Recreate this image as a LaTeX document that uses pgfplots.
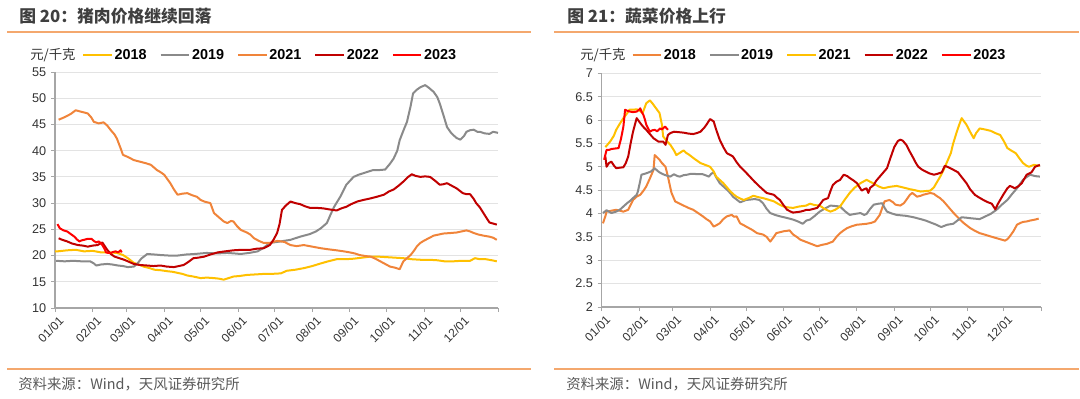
\documentclass[border=0pt]{standalone}
\usepackage{fontspec}
\setmainfont{Liberation Sans}
\newfontfamily\cjk{Noto Sans CJK SC}
\usepackage{pgfplots}
\pgfplotsset{compat=1.18}
\definecolor{cy}{HTML}{FFC000}
\definecolor{cg}{HTML}{8A8A8A}
\definecolor{co}{HTML}{F0843A}
\definecolor{cdr}{HTML}{C00000}
\definecolor{cr}{HTML}{FF0000}
\definecolor{rulecol}{HTML}{F4A86E}
\definecolor{titlegray}{HTML}{3F3F3F}
\definecolor{footgray}{HTML}{595959}
\definecolor{axisgray}{HTML}{A6A6A6}
\definecolor{gridgray}{HTML}{E3E3E3}
\definecolor{tickgray}{HTML}{333333}
\pgfplotsset{
  mystyle/.style={
    scale only axis,
    xmin=0, xmax=365,
    axis x line*=bottom, axis y line*=left,
    axis line style={-, draw=axisgray, line width=0.8pt},
    tick style={draw=axisgray, line width=0.7pt},
    tick align=outside,
    major tick length=3pt,
    ymajorgrids,
    grid style={draw=gridgray, line width=0.75pt},
    xtick={0,31,59,90,120,151,181,212,243,273,304,334,365},
    xticklabels={01/01,02/01,03/01,04/01,05/01,06/01,07/01,08/01,09/01,10/01,11/01,12/01,},
    x tick label style={rotate=45, anchor=north east, font=\fontsize{9}{10}\selectfont, text=tickgray, inner sep=1pt, yshift=-2.5pt, xshift=1pt},
    y tick label style={font=\fontsize{9.5}{11}\selectfont, text=tickgray},
    /pgf/number format/assume math mode=true,
    legend columns=5,
    legend cell align=left,
    legend style={draw=none, fill=none, inner sep=0pt, anchor=west,
      font=\bfseries\fontsize{10.8}{12}\selectfont,
      nodes={inner sep=1.2pt},
      /tikz/every even column/.append style={column sep=8.5pt}},
    legend image code/.code={\draw[#1, line width=1.6pt] (0pt,0pt) -- (21.5pt,0pt);},
    every axis plot/.append style={line width=1.5pt, line join=round},
  }
}
\begin{document}
\begin{tikzpicture}
\useasboundingbox (0,0) rectangle (810pt,-299.25pt);
\begin{scope}[x=0.75pt,y=-0.75pt]
\node[anchor=west, font=\cjk\bfseries\fontsize{12.6}{14}\selectfont, text=titlegray, inner sep=0pt] at (19,16) {图 20：猪肉价格继续回落};
\node[anchor=west, font=\cjk\bfseries\fontsize{12.6}{14}\selectfont, text=titlegray, inner sep=0pt] at (567,16) {图 21：蔬菜价格上行};
\draw[rulecol, line width=1pt] (7,32) -- (531,32);
\draw[rulecol, line width=1pt] (554,32) -- (1079,32);
\draw[rulecol, line width=1pt] (7,369) -- (531,369);
\draw[rulecol, line width=1pt] (554,369) -- (1079,369);
\node[anchor=west, font=\cjk\fontsize{10.8}{12}\selectfont, text=footgray, inner sep=0pt] at (18,384) {资料来源：Wind，天风证券研究所};
\node[anchor=west, font=\cjk\fontsize{10.8}{12}\selectfont, text=footgray, inner sep=0pt] at (566,384) {资料来源：Wind，天风证券研究所};
\node[anchor=west, font=\cjk\fontsize{10}{12}\selectfont, text=tickgray, inner sep=0pt] at (30,55) {元/千克};
\node[anchor=west, font=\cjk\fontsize{10}{12}\selectfont, text=tickgray, inner sep=0pt] at (580,55) {元/千克};
\end{scope}

% ---------------- Left: pork ----------------
\begin{axis}[mystyle, at={(41.25pt,-231pt)}, anchor=south west,
  width=332.25pt, height=177pt,
  ymin=10, ymax=55, ytick={10,15,...,55},
  legend style={at={(0.061,1.072)}}]
\addplot[cy] coordinates {(0,20.8)(2,20.8)(10,21.0)(17,21.1)(24,20.8)(31,20.9)(38,20.6)(45,20.6)(51,20.5)(56,20.1)(60,19.5)(65,18.6)(69,18.3)(73,17.9)(78,17.6)(82,17.3)(87,17.2)(93,17.0)(97,16.9)(101,16.7)(105,16.5)(109,16.2)(114,16.0)(120,15.7)(125,15.8)(131,15.7)(135,15.6)(139,15.4)(143,15.7)(147,16.0)(152,16.1)(158,16.3)(165,16.4)(172,16.5)(178,16.5)(186,16.6)(191,17.1)(198,17.3)(205,17.6)(212,18.0)(219,18.5)(225,18.9)(232,19.3)(239,19.3)(246,19.4)(253,19.6)(260,19.8)(266,19.8)(273,19.7)(280,19.6)(287,19.5)(294,19.3)(301,19.2)(308,19.2)(315,19.1)(321,18.9)(328,18.9)(335,19.0)(342,19.0)(346,19.5)(350,19.3)(355,19.3)(360,19.1)(364,18.9)};
\addlegendentry{2018}
\addplot[cg] coordinates {(1,19.0)(8,18.9)(15,19.0)(22,18.9)(29,18.9)(32,18.5)(34,18.1)(38,18.3)(43,18.4)(47,18.3)(52,18.1)(56,18.0)(60,17.8)(65,17.9)(68,18.5)(71,19.4)(76,20.3)(82,20.2)(87,20.1)(94,20.0)(101,20.0)(108,20.2)(115,20.3)(120,20.4)(125,20.5)(133,20.4)(142,20.5)(148,20.4)(153,20.3)(160,20.5)(167,20.8)(172,21.5)(177,22.4)(186,22.7)(194,23.0)(202,23.6)(210,24.1)(215,24.6)(219,25.2)(224,26.2)(227,27.8)(230,29.3)(235,31.2)(240,33.5)(246,35.0)(250,35.4)(254,35.7)(258,36.0)(262,36.3)(267,36.3)(272,36.4)(276,37.5)(279,38.5)(282,40.0)(284,42.0)(287,43.8)(290,45.5)(293,48.5)(295,50.9)(298,51.6)(301,52.1)(305,52.5)(308,52.0)(312,51.2)(315,50.2)(317,49.0)(320,46.8)(323,44.5)(326,43.5)(328,43.0)(331,42.4)(334,42.1)(337,42.8)(339,43.6)(342,43.9)(345,44.0)(348,43.6)(350,43.6)(354,43.3)(358,43.2)(361,43.6)(365,43.4)};
\addlegendentry{2019}
\addplot[co] coordinates {(3,45.9)(8,46.4)(13,47.0)(17,47.7)(22,47.4)(27,47.1)(30,46.3)(32,45.5)(36,45.2)(40,45.4)(43,44.8)(46,43.9)(49,43.1)(51,42.3)(54,40.5)(56,39.2)(60,38.8)(65,38.2)(70,37.9)(75,37.6)(79,37.3)(84,36.3)(87,35.9)(90,35.4)(95,33.8)(98,32.6)(101,31.6)(105,31.8)(109,31.9)(113,31.5)(117,31.2)(120,30.6)(123,30.3)(128,30.0)(131,28.1)(136,27.1)(139,26.5)(142,26.2)(145,26.6)(147,26.5)(150,25.6)(153,24.9)(158,24.4)(161,24.0)(164,23.3)(168,22.8)(172,22.4)(177,22.4)(183,22.8)(189,22.6)(194,22.0)(199,21.8)(205,22.0)(212,21.7)(219,21.4)(225,21.2)(232,21.0)(238,20.8)(243,20.6)(247,20.4)(251,20.1)(256,19.9)(260,19.8)(264,19.4)(268,18.9)(272,18.4)(276,17.9)(280,17.7)(284,17.4)(287,18.9)(290,19.5)(293,20.1)(296,21.0)(298,21.7)(301,22.4)(303,22.7)(307,23.2)(312,23.8)(316,24.0)(320,24.2)(326,24.3)(331,24.4)(335,24.6)(339,24.8)(342,24.6)(345,24.3)(349,24.0)(353,23.8)(358,23.6)(361,23.4)(364,23.0)};
\addlegendentry{2021}
\addplot[cdr] coordinates {(3,23.3)(6,23.0)(10,22.7)(14,22.3)(19,22.0)(23,21.9)(27,21.7)(31,21.9)(35,22.0)(39,22.5)(41,21.8)(43,21.1)(46,20.3)(49,19.8)(53,19.5)(57,19.2)(61,18.8)(65,18.4)(70,18.2)(76,18.1)(81,18.0)(87,18.1)(92,17.9)(98,17.8)(102,18.0)(106,18.2)(110,18.8)(114,19.5)(118,19.6)(123,19.8)(128,20.2)(134,20.6)(140,20.8)(147,21.0)(154,21.1)(161,21.1)(166,21.3)(172,21.4)(177,22.0)(180,23.0)(183,24.3)(185,26.0)(187,28.7)(190,29.5)(194,30.3)(198,30.0)(202,29.8)(206,29.4)(210,29.1)(215,29.1)(221,29.0)(226,28.8)(232,28.6)(236,29.0)(240,29.3)(244,29.8)(249,30.3)(254,30.6)(260,30.9)(265,31.2)(271,31.6)(275,32.2)(279,32.6)(283,33.3)(287,34.1)(291,35.0)(294,35.5)(297,35.2)(301,35.0)(305,35.1)(309,35.0)(313,34.3)(317,33.5)(320,33.6)(323,33.8)(327,33.3)(331,32.8)(336,31.9)(339,31.7)(342,31.7)(345,30.8)(347,30.0)(350,29.2)(353,28.1)(356,27.0)(358,26.3)(361,26.1)(364,25.9)};
\addlegendentry{2022}
\addplot[cr] coordinates {(2,26.0)(4,25.2)(7,24.8)(10,24.6)(13,24.1)(16,23.6)(18,23.1)(20,22.7)(22,22.9)(24,23.0)(27,23.2)(30,23.2)(32,22.8)(34,22.5)(36,22.7)(38,22.3)(39,22.0)(41,21.2)(42,20.6)(44,20.5)(46,20.5)(48,20.7)(50,20.8)(52,20.6)(54,21.0)(55,20.6)};
\addlegendentry{2023}
\end{axis}

% ---------------- Right: vegetables ----------------
\begin{axis}[mystyle, at={(451.3pt,-230.25pt)}, anchor=south west,
  width=329.5pt, height=175.3pt,
  ymin=2, ymax=7, ytick={2,2.5,...,7},
  legend style={at={(0.067,1.077)}}]
\addplot[co] coordinates {(1,3.79)(3,3.94)(4,4.04)(8,4.06)(12,4.08)(15,4.06)(18,4.04)(22,4.08)(26,4.29)(29,4.36)(32,4.40)(35,4.50)(37,4.58)(40,4.75)(43,4.93)(44,5.25)(46,5.20)(48,5.15)(50,5.08)(53,5.00)(55,4.79)(57,4.55)(58,4.44)(61,4.26)(64,4.22)(68,4.17)(72,4.12)(76,4.08)(80,4.01)(84,3.94)(87,3.88)(90,3.83)(93,3.72)(96,3.76)(98,3.79)(101,3.88)(104,3.94)(108,3.97)(110,3.93)(112,3.94)(115,3.79)(118,3.75)(120,3.72)(125,3.65)(129,3.58)(134,3.55)(137,3.50)(140,3.40)(143,3.50)(145,3.58)(148,3.60)(151,3.62)(154,3.63)(156,3.64)(159,3.55)(162,3.50)(165,3.44)(169,3.40)(172,3.37)(176,3.33)(179,3.30)(183,3.33)(187,3.35)(192,3.40)(195,3.50)(198,3.58)(201,3.64)(204,3.69)(208,3.73)(212,3.76)(216,3.77)(220,3.78)(224,3.80)(227,3.83)(229,3.90)(231,3.97)(233,4.12)(235,4.26)(239,4.29)(242,4.24)(244,4.19)(248,4.17)(251,4.22)(253,4.29)(256,4.40)(258,4.44)(260,4.40)(262,4.36)(265,4.38)(267,4.40)(270,4.42)(273,4.44)(276,4.42)(278,4.38)(281,4.33)(284,4.26)(287,4.17)(290,4.08)(292,4.02)(295,3.94)(298,3.86)(301,3.79)(304,3.73)(306,3.69)(310,3.63)(314,3.58)(318,3.55)(323,3.51)(327,3.48)(331,3.45)(335,3.42)(337,3.45)(339,3.51)(342,3.62)(345,3.76)(348,3.80)(350,3.82)(353,3.83)(356,3.85)(360,3.87)(363,3.89)};
\addlegendentry{2018}
\addplot[cg] coordinates {(1,4.01)(4,4.07)(8,4.01)(12,4.04)(15,4.08)(18,4.15)(21,4.22)(24,4.28)(26,4.33)(29,4.40)(30,4.47)(32,4.70)(33,4.83)(37,4.86)(41,4.90)(44,4.97)(46,4.92)(48,4.88)(51,4.84)(54,4.81)(57,4.79)(60,4.84)(63,4.80)(65,4.79)(68,4.82)(71,4.83)(74,4.85)(76,4.85)(80,4.84)(84,4.84)(87,4.81)(89,4.79)(91,4.85)(93,4.88)(95,4.78)(98,4.65)(101,4.58)(104,4.51)(107,4.43)(109,4.36)(112,4.30)(115,4.24)(118,4.27)(120,4.29)(124,4.30)(127,4.31)(131,4.29)(134,4.22)(137,4.10)(140,4.01)(144,3.97)(148,3.94)(153,3.91)(159,3.87)(163,3.83)(167,3.78)(170,3.85)(173,3.87)(177,3.95)(181,4.04)(185,4.10)(190,4.17)(194,4.16)(198,4.15)(202,4.05)(206,3.97)(210,3.99)(215,4.01)(218,3.97)(220,3.99)(223,4.10)(226,4.19)(230,4.21)(233,4.22)(235,4.12)(237,4.04)(241,4.00)(245,3.97)(249,3.96)(253,3.95)(259,3.92)(265,3.88)(269,3.85)(273,3.81)(278,3.76)(282,3.71)(285,3.74)(287,3.76)(292,3.78)(296,3.86)(299,3.92)(303,3.91)(306,3.90)(310,3.89)(314,3.88)(318,3.93)(323,3.99)(328,4.08)(332,4.18)(337,4.29)(341,4.42)(345,4.54)(348,4.65)(350,4.72)(353,4.78)(356,4.83)(360,4.80)(364,4.79)};
\addlegendentry{2019}
\addplot[cy] coordinates {(3,5.42)(7,5.54)(10,5.66)(12,5.79)(15,5.92)(18,6.04)(21,6.14)(23,6.22)(26,6.22)(29,6.23)(32,6.19)(34,6.15)(37,6.36)(40,6.42)(42,6.36)(44,6.29)(46,6.22)(48,6.15)(50,5.90)(51,5.65)(54,5.55)(57,5.47)(60,5.35)(62,5.25)(65,5.30)(68,5.35)(70,5.30)(73,5.25)(77,5.17)(82,5.08)(86,5.04)(90,5.00)(93,4.90)(95,4.79)(98,4.72)(101,4.65)(104,4.56)(107,4.47)(110,4.40)(112,4.36)(115,4.32)(118,4.29)(122,4.33)(126,4.38)(130,4.35)(134,4.33)(138,4.30)(143,4.26)(147,4.20)(151,4.15)(155,4.13)(159,4.12)(164,4.15)(170,4.17)(173,4.21)(177,4.18)(181,4.17)(185,4.10)(190,4.04)(194,4.08)(198,4.15)(202,4.30)(206,4.44)(210,4.55)(215,4.65)(220,4.72)(223,4.68)(226,4.64)(230,4.58)(234,4.54)(239,4.57)(245,4.59)(250,4.56)(256,4.52)(260,4.50)(265,4.47)(269,4.48)(273,4.49)(276,4.56)(278,4.65)(281,4.78)(284,4.93)(287,5.11)(290,5.29)(292,5.50)(295,5.75)(297,5.90)(299,6.04)(301,5.97)(303,5.90)(306,5.75)(309,5.61)(311,5.72)(314,5.82)(318,5.80)(323,5.77)(327,5.72)(331,5.68)(334,5.55)(337,5.40)(340,5.35)(344,5.29)(347,5.18)(350,5.08)(353,5.02)(355,5.00)(359,5.04)(364,5.02)};
\addlegendentry{2021}
\addplot[cdr] coordinates {(3,5.22)(4,5.00)(6,5.08)(8,5.11)(10,5.03)(12,4.97)(15,4.98)(18,4.99)(20,5.08)(22,5.22)(24,5.50)(26,5.75)(29,6.04)(31,5.97)(33,5.90)(35,5.84)(37,5.79)(40,5.70)(43,5.61)(47,5.54)(51,5.54)(53,5.47)(55,5.68)(57,5.72)(60,5.75)(64,5.74)(68,5.73)(72,5.71)(76,5.70)(79,5.72)(82,5.75)(85,5.83)(87,5.90)(90,6.02)(93,5.97)(95,5.80)(98,5.58)(101,5.42)(104,5.29)(107,5.25)(109,5.22)(112,5.10)(115,5.00)(119,4.90)(123,4.79)(127,4.68)(131,4.58)(134,4.51)(137,4.44)(140,4.42)(143,4.40)(146,4.33)(148,4.29)(151,4.18)(154,4.08)(157,4.04)(159,4.02)(162,4.03)(165,4.04)(168,4.06)(170,4.08)(173,4.08)(176,4.10)(179,4.12)(182,4.22)(184,4.29)(188,4.33)(190,4.48)(192,4.61)(195,4.68)(198,4.72)(201,4.83)(204,4.80)(206,4.76)(209,4.71)(212,4.65)(214,4.57)(216,4.49)(218,4.52)(220,4.54)(221.5,4.44)(223,4.55)(226,4.61)(228,4.70)(231,4.79)(234,4.88)(237,4.97)(240,5.20)(243,5.42)(246,5.55)(248,5.58)(250,5.56)(253,5.47)(256,5.32)(259,5.18)(261,5.08)(263,5.00)(266,4.94)(269,4.90)(272,4.86)(276,4.83)(279,4.85)(282.5,4.88)(285,5.02)(288,4.99)(291,4.95)(294,4.91)(296,4.88)(299,4.78)(303,4.65)(306,4.52)(310,4.40)(313,4.35)(317,4.29)(320,4.25)(324,4.21)(327,4.09)(329,4.20)(331,4.29)(334,4.42)(337,4.54)(339,4.59)(341,4.57)(343,4.54)(346,4.58)(349,4.65)(351,4.74)(353,4.83)(357,4.88)(360,5.00)(364,5.04)};
\addlegendentry{2022}
\addplot[cr] coordinates {(2,5.15)(4,5.36)(6,5.36)(8,5.38)(11,5.39)(14,5.40)(16,5.60)(18,5.86)(19.4,6.22)(21,6.20)(23.5,6.18)(26,6.17)(29,6.18)(31,6.22)(32,6.25)(33,6.18)(34.6,6.11)(36,6.00)(37,5.90)(39,5.80)(40,5.75)(42,5.78)(44,5.79)(46,5.76)(48.5,5.82)(50,5.80)(52.6,5.86)(54,5.82)(55,5.79)};
\addlegendentry{2023}
\end{axis}
\end{tikzpicture}
\end{document}
